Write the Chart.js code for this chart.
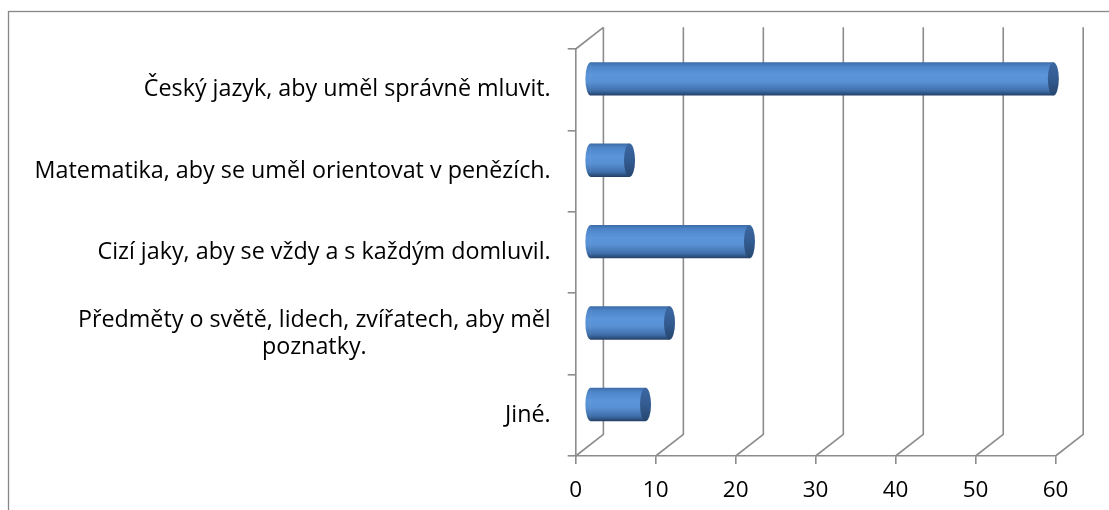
<!DOCTYPE html>
<html><head><meta charset="utf-8">
<script src="https://cdn.jsdelivr.net/npm/chart.js@4.4.1/dist/chart.umd.min.js"></script>
<style>html,body{margin:0;padding:0;background:#fff;overflow:hidden}#wrap{position:relative;width:1109px;height:510px}</style>
</head><body><div id="wrap"><canvas id="c" width="1109" height="510"></canvas></div>
<script>
// ---- data ----
const categories = [
  ['Český jazyk, aby uměl správně mluvit.'],
  ['Matematika, aby se uměl orientovat v penězích.'],
  ['Cizí jaky, aby se vždy a s každým domluvil.'],
  ['Předměty o světě, lidech, zvířatech, aby měl', 'poznatky.'],
  ['Jiné.']
];
const values = [58, 5, 20, 10, 7];
const xTicks = [0, 10, 20, 30, 40, 50, 60];

// ---- style ----
const FONT = '"Open Sans"';
const FONT_SIZE = 23.3;
const GRID = '#8c8c8c';
const DX = 27.7, DY = -21.7;      // 3D depth offset of back wall
const BAR_PCT = 0.41;
const RX = 5.5;                    // cylinder cap radius (x)
const LABEL_GAP = 25;
const LINE_H = 27.5;

function bodyGradient(ctx, y, h) {
  const g = ctx.createLinearGradient(0, y - h / 2, 0, y + h / 2);
  g.addColorStop(0, '#3d6ba6');
  g.addColorStop(0.12, '#4d84c8');
  g.addColorStop(0.38, '#5b95da');
  g.addColorStop(0.6, '#5890d3');
  g.addColorStop(0.85, '#3f6faa');
  g.addColorStop(1, '#233f66');
  return g;
}
function capGradient(ctx, y, h) {
  const g = ctx.createLinearGradient(0, y - h / 2, 0, y + h / 2);
  g.addColorStop(0, '#3b67a1');
  g.addColorStop(0.5, '#335c91');
  g.addColorStop(1, '#26466f');
  return g;
}

const depthPlugin = {
  id: 'depth',
  beforeDraw(chart) {
    const ctx = chart.ctx;
    ctx.save();
    ctx.strokeStyle = '#878787';
    ctx.lineWidth = 1.3;
    ctx.strokeRect(8.5, 11.5, 3000, 3000);
    ctx.restore();
  },
  beforeDatasetsDraw(chart) {
    const ctx = chart.ctx, xs = chart.scales.x, a = chart.chartArea;
    ctx.save();
    ctx.strokeStyle = GRID;
    ctx.lineWidth = 1.6;
    ctx.beginPath();
    xs.ticks.forEach(t => {
      const xf = xs.getPixelForValue(t.value);
      ctx.moveTo(xf, a.bottom);
      ctx.lineTo(xf + DX, a.bottom + DY);
      ctx.lineTo(xf + DX, a.top + DY);
    });
    ctx.moveTo(a.left, a.top);
    ctx.lineTo(a.left + DX, a.top + DY);
    ctx.stroke();
    ctx.restore();
    // bars sit half way into the depth
    ctx.save();
    ctx.translate(DX / 2, DY / 2);
  },
  afterDatasetsDraw(chart) {
    const ctx = chart.ctx;
    const meta = chart.getDatasetMeta(0);
    meta.data.forEach(bar => {
      const p = bar.getProps(['x', 'y', 'base', 'height'], true);
      const h2 = p.height / 2;
      ctx.fillStyle = bodyGradient(ctx, p.y, p.height);
      ctx.beginPath();
      ctx.ellipse(p.base + 0.5, p.y, RX, h2, 0, Math.PI / 2, Math.PI * 1.5);
      ctx.closePath();
      ctx.fill();
      ctx.fillStyle = capGradient(ctx, p.y, p.height);
      ctx.beginPath();
      ctx.ellipse(p.x, p.y, RX, h2, 0, 0, Math.PI * 2);
      ctx.fill();
    });
    ctx.restore();
  },
  afterDraw(chart) {
    const ctx = chart.ctx, ys = chart.scales.y;
    ctx.save();
    ctx.font = FONT_SIZE + 'px ' + FONT;
    ctx.fillStyle = '#000';
    ctx.textBaseline = 'middle';
    ctx.textAlign = 'center';
    const right = ys.right - LABEL_GAP;
    categories.forEach((lines, i) => {
      const cy = ys.getPixelForValue(i);
      const bw = Math.max(...lines.map(l => ctx.measureText(l).width));
      const cx = right - bw / 2;
      lines.forEach((l, k) => ctx.fillText(l, cx, cy + (k - (lines.length - 1) / 2) * LINE_H));
    });
    ctx.restore();
  }
};

new Chart(document.getElementById('c'), {
  type: 'bar',
  data: {
    labels: categories.map(c => c.join(' ')),
    datasets: [{
      data: values,
      borderWidth: 0,
      barPercentage: BAR_PCT,
      categoryPercentage: 1,
      backgroundColor: (c) => {
        const ys = c.chart.scales.y;
        if (!ys || c.dataIndex === undefined) return '#4f81bd';
        const y = ys.getPixelForValue(c.dataIndex);
        const h = Math.abs(ys.getPixelForValue(1) - ys.getPixelForValue(0)) * BAR_PCT;
        if (!isFinite(y) || !isFinite(h) || h <= 0) return '#4f81bd';
        return bodyGradient(c.chart.ctx, y, h);
      }
    }]
  },
  options: {
    indexAxis: 'y',
    responsive: false,
    animation: false,
    devicePixelRatio: 1,
    layout: { padding: { top: 49, right: 53.5, bottom: 0, left: 0 } },
    plugins: { legend: { display: false }, tooltip: { enabled: false } },
    scales: {
      x: {
        min: 0, max: 60,
        afterBuildTicks: s => { s.ticks = xTicks.map(v => ({ value: v })); },
        afterFit: s => { s.height = 54; },
        grid: { drawOnChartArea: false, drawTicks: true, tickLength: 8, color: GRID, lineWidth: 1.6 },
        border: { display: true, color: GRID, width: 1.6 },
        ticks: { color: '#000', font: { family: 'Open Sans', size: 22.5 }, padding: 13, maxRotation: 0 }
      },
      y: {
        afterFit: s => { s.width = 575.7; },
        grid: { drawOnChartArea: false, drawTicks: true, tickLength: 8, color: GRID, lineWidth: 1.6, offset: true },
        border: { display: true, color: GRID, width: 1.6 },
        ticks: { display: false }
      }
    }
  },
  plugins: [depthPlugin]
});
</script>
</body></html>
